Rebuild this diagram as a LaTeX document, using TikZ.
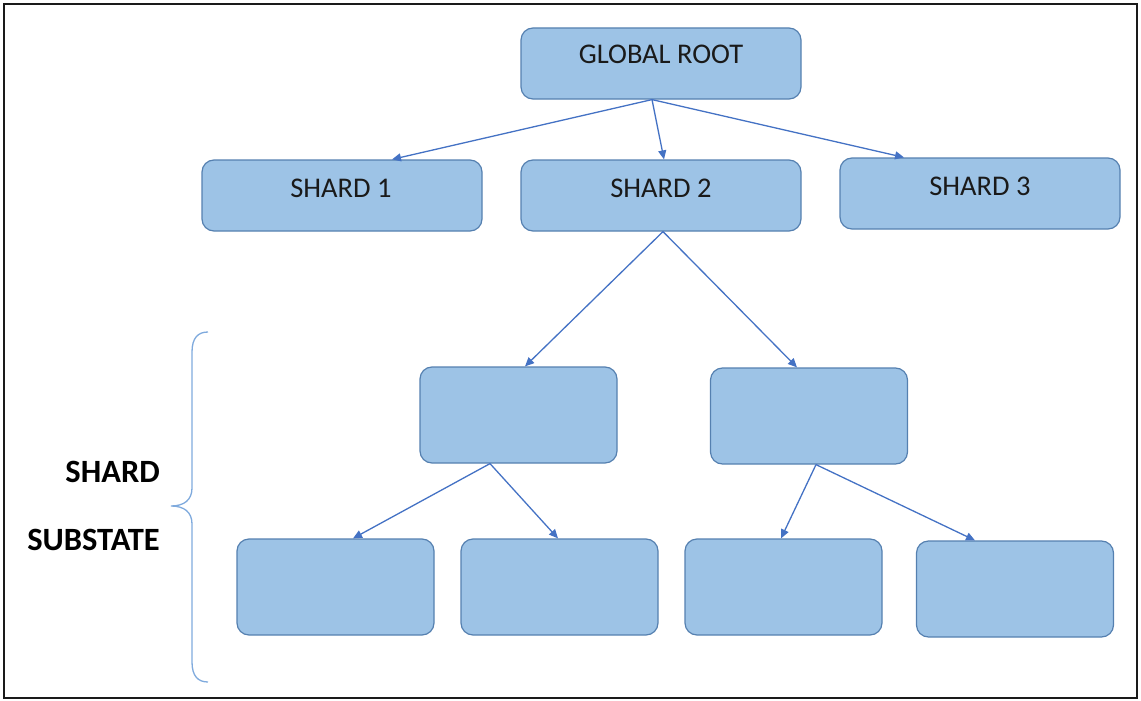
\documentclass[tikz,border=0pt]{standalone}
\usepackage{fontspec}
\setmainfont{Carlito}
\usetikzlibrary{arrows.meta,calc}
\definecolor{boxfill}{HTML}{9DC3E6}
\definecolor{boxedge}{HTML}{5580B0}
\definecolor{arrowblue}{HTML}{4472C4}
\definecolor{bracecol}{HTML}{7FAADD}
\definecolor{textcol}{HTML}{1A1A1A}
\tikzset{
  box/.style={draw=boxedge, fill=boxfill, line width=1.2pt, rounded corners=12pt, inner sep=0pt},
  bigbox/.style={box, minimum width=280pt, minimum height=71pt},
  subbox/.style={box, minimum width=197pt, minimum height=96pt},
  lbl/.style={font=\fontsize{28.5}{34}\selectfont, text=textcol, inner sep=0pt, anchor=base},
  side/.style={font=\fontsize{32.5}{38}\selectfont\bfseries, text=black, inner sep=0pt, anchor=base east},
  conn/.style={draw=arrowblue, line width=1.3pt, -{Triangle[length=9pt,width=8pt]}},
}
\begin{document}
\begin{tikzpicture}[x=1pt,y=-1pt]
\useasboundingbox (0,0) rectangle (1141,701);
\draw[line width=2.8pt, draw=textcol] (4,4) rectangle (1137,698);
% top level
\node[bigbox] (root) at (661,63.5) {};
\node[bigbox] (s1) at (342,195.5) {};
\node[bigbox] (s2) at (661,195.5) {};
\node[bigbox] (s3) at (980,193.5) {};
\node[lbl] (troot) at (661,64) {GLOBAL ROOT};
\node[lbl] (ts1) at (341,197) {SHARD 1};
\node[lbl] (ts2) at (661,197) {SHARD 2};
\node[lbl] (ts3) at (980,195) {SHARD 3};
% substate
\node[subbox] (m1) at (518.5,415) {};
\node[subbox] (m2) at (809,416) {};
\node[subbox] (b1) at (335.5,587) {};
\node[subbox] (b2) at (559.5,587) {};
\node[subbox] (b3) at (783.5,587) {};
\node[subbox] (b4) at (1015,589) {};
% connectors
\draw[conn] ([xshift=-9pt]root.south) -- ([xshift=50pt]s1.north);
\draw[conn] ([xshift=-9pt]root.south) -- ([xshift=3pt]s2.north);
\draw[conn] ([xshift=-9pt]root.south) -- ([xshift=-76pt]s3.north);
\draw[conn] ([xshift=2pt]s2.south) -- ([xshift=6.5pt]m1.north);
\draw[conn] ([xshift=2pt]s2.south) -- ([xshift=-12pt]m2.north);
\draw[conn] ([xshift=-28.5pt]m1.south) -- ([xshift=17.5pt]b1.north);
\draw[conn] ([xshift=-28.5pt]m1.south) -- ([xshift=-1.5pt]b2.north);
\draw[conn] ([xshift=7pt]m2.south) -- ([xshift=-2.5pt]b3.north);
\draw[conn] ([xshift=7pt]m2.south) -- ([xshift=-40pt]b4.north);
% brace
\draw[draw=bracecol, line width=1.3pt] (208,332) .. controls (198,332) and (192,338) .. (192,352) -- (192,488) .. controls (192,500) and (184,506) .. (171,506) .. controls (184,506) and (192,512) .. (192,524) -- (192,662) .. controls (192,676) and (198,682) .. (208,682);
% side labels
\node[side] (lshard) at (160,482) {SHARD};
\node[side] (lsub) at (160,550) {SUBSTATE};
\end{tikzpicture}
\end{document}
